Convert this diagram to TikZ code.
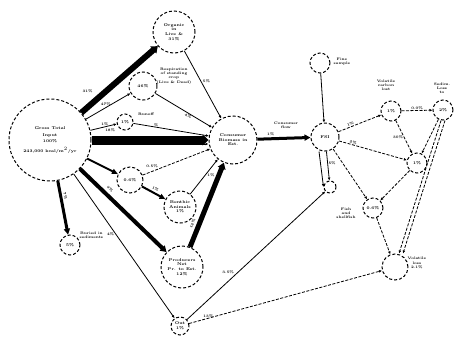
\documentclass[tikz,border=0pt]{standalone}
\usetikzlibrary{arrows.meta}
\tikzset{
  pool/.style={circle,draw,densely dashed,line width=1pt,inner sep=0pt,align=center,
    font=\fontsize{4}{4.6}\selectfont\bfseries},
  lbl/.style={font=\fontsize{3.6}{4.2}\selectfont\bfseries,align=center,inner sep=0.5pt},
  flow/.style={line width=0.8pt,-{Latex[length=3pt,width=2.8pt]}},
  heavy/.style={line width=#1,-{Triangle[length=6pt,width=#1+3pt]}},
  leak/.style={line width=0.8pt,dash pattern=on 3pt off 1.5pt,-{Latex[length=3pt,width=2.8pt]}}
}
\begin{document}
\begin{tikzpicture}[x=1pt,y=-1pt]
		%%%%% START %%%%%
		\useasboundingbox (0,0) rectangle (455,343);

		% pools on the left
		\node[pool,minimum size=82pt] (gross) at (50,140) {Gross Total\\[2pt]Input\\[2pt]100\%\\[3pt]243,000 kcal/m$^2$/yr};
		\node[pool,minimum size=42pt] (standing) at (174,32) {Organic\\in\\Live \&\\31\%};
		\node[pool,minimum size=28pt] (resp) at (143,86) {46\%};
		\node[pool,minimum size=16pt] (runoff) at (125,122) {1\%};
		\node[pool,minimum size=48pt] (hub) at (233,140) {Consumer\\Biomass in\\Est.};
		\node[pool,minimum size=26pt] (litter) at (130,180) {0.6\%};
		\node[pool,minimum size=32pt] (herb) at (180,207) {Benthic\\Animals\\1\%};
		\node[pool,minimum size=42pt] (producers) at (182,267) {Producers\\Net\\Pr. to Est.\\12\%};
		\node[pool,minimum size=20pt] (leach) at (70,245) {5\%};
		\node[pool,minimum size=18pt] (outlet) at (180,326) {Out\\1\%};

		% pools on the right
		\node[pool,minimum size=28pt] (fsi) at (325,137) {FSI};
		\node[pool,minimum size=20pt] (fine) at (320,63) {};
		\node[pool,minimum size=20pt] (vola) at (391,111) {1\%};
		\node[pool,minimum size=20pt] (volb) at (443,110) {2\%};
		\node[pool,minimum size=20pt] (mid) at (417,163) {1\%};
		\node[pool,minimum size=20pt] (low) at (373,208) {0.6\%};
		\node[pool,minimum size=26pt] (sink) at (395,267) {};
		\node[pool,minimum size=12pt] (junc) at (330,187) {};

		% text beside the pools
		\node[lbl,anchor=west] at (156,76) {Respiration\\of standing\\crop\\(Live \& Dead)};
		\node[lbl] at (146,114) {Runoff};
		\node[lbl,anchor=west] at (79,235) {Buried in\\sediments};
		\node[lbl,anchor=west] at (333,62) {Fine\\sample};
		\node[lbl] at (386,85) {Volatile\\carbon\\lost};
		\node[lbl] at (442,88) {Sedim.\\Loss\\to};
		\node[lbl] at (346,213) {Fish\\and\\shellfish};
		\node[lbl,anchor=west] at (407,263) {Volatile\\loss\\2.1\%};
		\node[lbl] at (286,125) {Consumer\\flow};
		\node[lbl] at (152,166) {0.5\%};

		% heavy flows out of the gross pool
		\draw[heavy=6pt] (gross) -- (standing) node[lbl,pos=.22,above left=2pt] {31\%};
		\draw[heavy=8pt] (gross) -- (hub) node[lbl,pos=.16,above=4pt] {18\%};
		\draw[heavy=4pt] (gross) -- (producers) node[lbl,pos=.3,sloped,above=2pt] {9\%};
		\draw[heavy=3pt] (gross) -- (leach) node[lbl,pos=.3,sloped,above=1pt] {7\%};
		\draw[heavy=5pt] (producers) -- (hub) node[lbl,pos=.25,sloped,above=2pt] {12\%};
		\draw[heavy=2pt] (gross) -- (litter);
		\draw[heavy=2pt] (litter) -- (herb) node[lbl,pos=.5,sloped,above=1pt] {1\%};
		\draw[heavy=3pt] (hub) -- (fsi) node[lbl,pos=.25,above=1pt] {1\%};

		% thin flows
		\draw[flow] (standing) -- (hub) node[lbl,pos=.45,right=1pt] {5\%};
		\draw[flow] (gross) -- (resp) node[lbl,pos=.45,above=1pt] {47\%};
		\draw[flow] (resp) -- (hub) node[lbl,pos=.6,sloped,below] {4\%};
		\draw[flow] (gross) -- (runoff) node[lbl,pos=.55,above=0.5pt] {1\%};
		\draw[flow] (runoff) -- (hub) node[lbl,pos=.3,above] {\%};
		\draw[flow] ([yshift=-4pt]gross.east) -- ([yshift=-4pt]hub.west);
		\draw[flow] (herb) -- (hub) node[lbl,pos=.55,right=1pt] {1\%};
		\draw[leak] (litter) -- (hub);
		\draw[flow] (gross) -- (outlet) node[lbl,pos=.42,left=1pt] {4\%};
		\draw[flow] (outlet) -- (junc) node[lbl,pos=.35,above left=0.5pt] {3.5\%};
		\draw[leak] (outlet) -- (sink) node[lbl,pos=.1,above] {13\%};
		\draw[flow] (fine) -- (fsi);

		% exchanges among the right pools
		\draw[leak] (fsi) -- (vola) node[lbl,pos=.3,sloped,above] {1\%};
		\draw[leak] (fsi) -- (mid) node[lbl,pos=.2,sloped,above] {2\%};
		\draw[leak] (vola) -- (volb) node[lbl,pos=.5,above] {0.0\%};
		\draw[leak] (vola) -- (mid) node[lbl,pos=.5,left] {30\%};
		\draw[leak] (volb) -- (mid);
		\draw[leak] ([xshift=-2pt]volb.south) -- ([xshift=4pt]sink.north);
		\draw[leak] ([xshift=2pt]volb.south) -- ([xshift=8pt]sink.north);
		\draw[leak] (mid) -- (low);
		\draw[leak] (low) -- (sink);
		\draw[leak] (fsi) -- (low);
		\draw[flow] (fsi) -- (junc) node[lbl,pos=.4,right] {5\%};
		\draw[flow] ([xshift=-6pt]fsi.south) -- (junc.west);

		%%%%% END %%%%%
\end{tikzpicture}
\end{document}
